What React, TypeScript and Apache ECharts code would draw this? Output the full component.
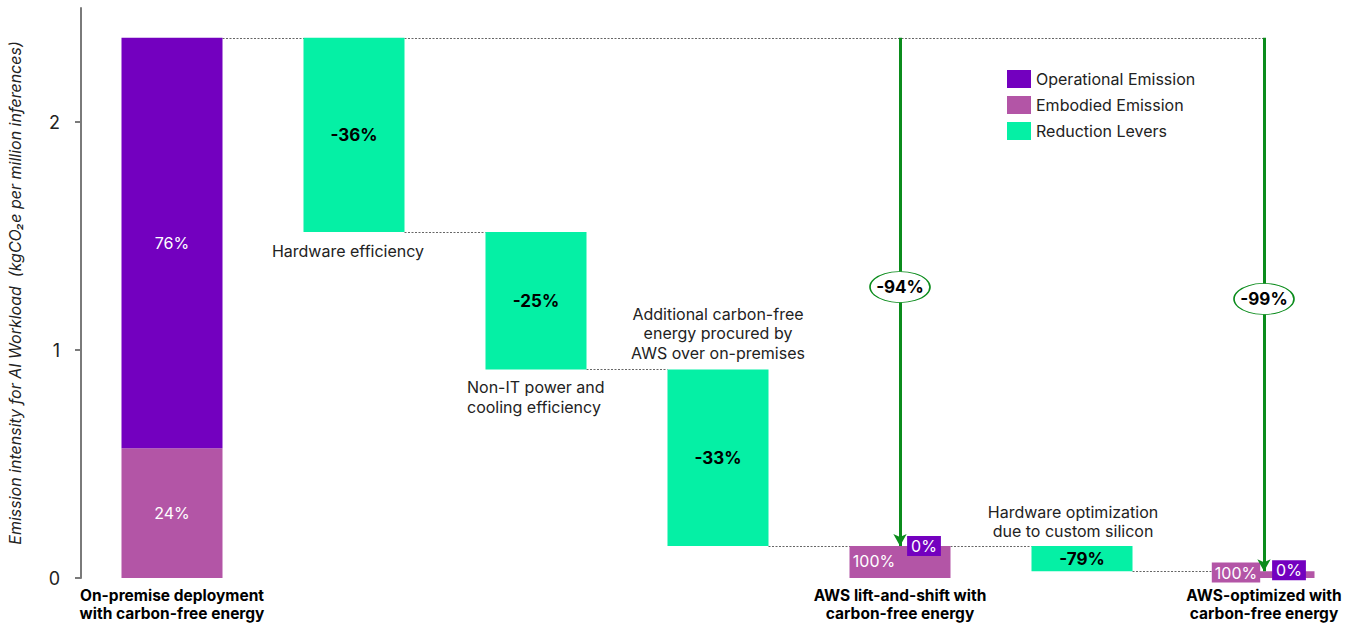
import React, { useEffect, useRef } from "react";
import * as echarts from "echarts";

const categories = [
  "On-premise deployment\nwith carbon-free energy",
  "Hardware efficiency",
  "Non-IT power and\ncooling efficiency",
  "Additional carbon-free\nenergy procured by\nAWS over on-premises",
  "AWS lift-and-shift with\ncarbon-free energy",
  "Hardware optimization\ndue to custom silicon",
  "AWS-optimized with\ncarbon-free energy",
];
const shownAxisLabels = [0, 4, 6];

const baseValues = [0, 1.517, 0.915, 0.14, 0, 0.03, 0];
const embodied = [0.569, null, null, null, 0.14, null, 0.03];
const operational = [1.801, null, null, null, 0, null, 0];
const reductions = [null, 0.853, 0.602, 0.775, null, 0.11, null];

const embodiedLabels = ["24%", "", "", "", "100%", "", "100%"];
const operationalLabels = ["76%", "", "", "", "0%", "", "0%"];
const reductionLabels = ["", "-36%", "-25%", "-33%", "", "-79%", ""];

// connectors: [fromIndex, toIndex, value, endsAtCenter]
const connectors = [
  [0, 6, 2.37, 1],
  [1, 2, 1.517, 0],
  [2, 3, 0.915, 0],
  [3, 5, 0.14, 0],
  [5, 6, 0.03, 0],
];

const totalTop = 2.37;
const overallReductions = [
  { index: 4, end: 0.14, label: "-94%" },
  { index: 6, end: 0.03, label: "-99%" },
];

const yTicks = [0, 1, 2];

const C_OP = "#7300bf";
const C_EMB = "#b355a6";
const C_RED = "#05f0a5";
const C_GREEN = "#0b8c1c";
const FONT = "Inter, 'Noto Sans', sans-serif";
const BAR_FRAC = 0.555;

export default function App() {
  const ref = useRef<HTMLDivElement>(null);
  useEffect(() => {
    if (!ref.current) return;
    const chart = echarts.init(ref.current, null, { renderer: "svg" });

    const embData = embodied.map((v, i) => {
      const item: any = { value: v == null ? "-" : v };
      if (i === 4) item.label = { offset: [-26, -1] };
      if (i === 6)
        item.label = {
          offset: [-28, -2],
          backgroundColor: C_EMB,
          padding: [2, 3],
        };
      return item;
    });
    const opData = operational.map((v, i) => {
      const item: any = { value: v == null ? "-" : v };
      if (i === 4 || i === 6)
        item.label = {
          offset: i === 4 ? [24, 0] : [25, -1],
          backgroundColor: C_OP,
          padding: [2, 4],
        };
      return item;
    });

    const annotation = (index: number, value: number, pos: string, extra: any) => ({
      coord: [index, value],
      symbol: "circle",
      symbolSize: 0,
      itemStyle: { color: "transparent" },
      label: {
        show: true,
        position: pos,
        formatter: categories[index],
        color: "#222",
        fontSize: 16,
        lineHeight: 19.5,
        fontFamily: FONT,
        ...extra,
      },
    });

    const ellipse = (r: any, y: number) => ({
      coord: [r.index, y],
      symbol: "circle",
      symbolSize: [60, 31],
      itemStyle: { color: "#fff", borderColor: C_GREEN, borderWidth: 1.2 },
      label: {
        show: true,
        position: "inside",
        formatter: r.label,
        color: "#000",
        fontWeight: "bold",
        fontSize: 17,
        fontFamily: FONT,
      },
    });

    const option: any = {
      animation: false,
      grid: {
        left: 81,
        right: 0,
        top: 8,
        bottom: 46,
        containLabel: false,
        outerBoundsMode: "none",
      },
      legend: {
        orient: "vertical",
        left: 1002,
        top: 65,
        itemWidth: 24,
        itemHeight: 18,
        itemGap: 8,
        icon: "rect",
        data: ["Operational Emission", "Embodied Emission", "Reduction Levers"],
        textStyle: { fontSize: 16, color: "#222", fontFamily: FONT },
        selectedMode: false,
      },
      xAxis: {
        type: "category",
        data: categories,
        axisLine: { show: false },
        axisTick: { show: false },
        axisLabel: {
          interval: 0,
          margin: 8,
          color: "#000",
          fontWeight: "bold",
          fontSize: 15.5,
          lineHeight: 18,
          fontFamily: FONT,
          formatter: (val: string, idx: number) =>
            shownAxisLabels.includes(idx) ? val : "",
        },
      },
      yAxis: {
        type: "value",
        min: 0,
        max: 2.5,
        interval: 1,
        name: "Emission intensity for AI Workload  (kgCO\u2082e per million inferences)",
        nameLocation: "middle",
        nameRotate: 90,
        nameGap: 58,
        nameTextStyle: {
          fontStyle: "italic",
          fontSize: 16,
          color: "#222",
          fontFamily: FONT,
        },
        splitLine: { show: false },
        axisLine: { show: true, lineStyle: { color: "#7a7a7a", width: 2 } },
        axisTick: {
          show: true,
          length: 6,
          customValues: yTicks,
          lineStyle: { color: "#7a7a7a", width: 2 },
        },
        axisLabel: {
          customValues: yTicks,
          margin: 21,
          fontSize: 18,
          color: "#222",
          fontFamily: FONT,
        },
      },
      series: [
        {
          type: "custom",
          name: "connectors",
          z: 1,
          silent: true,
          coordinateSystem: "cartesian2d",
          encode: { x: 0, y: 2 },
          data: connectors,
          renderItem: (params: any, api: any) => {
            const from = api.value(0);
            const to = api.value(1);
            const v = api.value(2);
            const toCenter = api.value(3);
            const p1 = api.coord([from, v]);
            const p2 = api.coord([to, v]);
            const bw = api.size([1, 0])[0] * BAR_FRAC;
            const x1 = p1[0] + bw / 2;
            const x2 = toCenter ? p2[0] : p2[0] - bw / 2;
            const y = Math.round(p1[1]) + 0.5;
            return {
              type: "line",
              shape: { x1, y1: y, x2, y2: y },
              style: { stroke: "#666", lineWidth: 1, lineDash: [2, 1.5] },
            };
          },
          markLine: {
            silent: true,
            symbol: ["none", "arrow"],
            symbolSize: [10, 12],
            label: { show: false },
            lineStyle: { color: C_GREEN, width: 3, type: "solid" },
            data: overallReductions.map((r) => [
              { coord: [r.index, totalTop] },
              { coord: [r.index, r.end] },
            ]),
          },
          markPoint: {
            silent: true,
            data: [ellipse(overallReductions[0], 1.276), ellipse(overallReductions[1], 1.224)],
          },
        },
        {
          type: "bar",
          name: "base",
          stack: "total",
          barWidth: BAR_FRAC * 100 + "%",
          silent: true,
          itemStyle: { color: "transparent" },
          data: baseValues,
          markPoint: {
            silent: true,
            data: [
              annotation(1, baseValues[1], "bottom", { distance: 9, offset: [-6, 0] }),
              annotation(2, baseValues[2], "bottom", {
                distance: 8,
                align: "left",
                offset: [-69, 0],
              }),
              annotation(3, baseValues[3] + (reductions[3] as number), "top", {
                distance: 7,
                align: "center",
              }),
              annotation(5, baseValues[5] + (reductions[5] as number), "top", {
                distance: 5,
                align: "center",
                offset: [-9, 0],
              }),
            ],
          },
        },
        {
          type: "bar",
          name: "Embodied Emission",
          stack: "total",
          barWidth: BAR_FRAC * 100 + "%",
          itemStyle: { color: C_EMB },
          label: {
            show: true,
            position: "inside",
            color: "#fff",
            fontSize: 16,
            fontFamily: FONT,
            formatter: (p: any) => embodiedLabels[p.dataIndex],
          },
          data: embData,
        },
        {
          type: "bar",
          name: "Operational Emission",
          stack: "total",
          barWidth: BAR_FRAC * 100 + "%",
          itemStyle: { color: C_OP },
          label: {
            show: true,
            position: "inside",
            color: "#fff",
            fontSize: 16,
            fontFamily: FONT,
            formatter: (p: any) => operationalLabels[p.dataIndex],
          },
          data: opData,
        },
        {
          type: "bar",
          name: "Reduction Levers",
          stack: "total",
          barWidth: BAR_FRAC * 100 + "%",
          itemStyle: { color: C_RED },
          label: {
            show: true,
            position: "inside",
            color: "#000",
            fontWeight: "bold",
            fontSize: 17,
            fontFamily: FONT,
            formatter: (p: any) => reductionLabels[p.dataIndex],
          },
          data: reductions.map((v) => (v == null ? "-" : v)),
        },
      ],
    };
    chart.setOption(option);
    return () => chart.dispose();
  }, []);

  return (
    <div
      ref={ref}
      style={{ position: "fixed", left: 0, top: 0, width: 1355, height: 624, background: "#fff" }}
    />
  );
}
